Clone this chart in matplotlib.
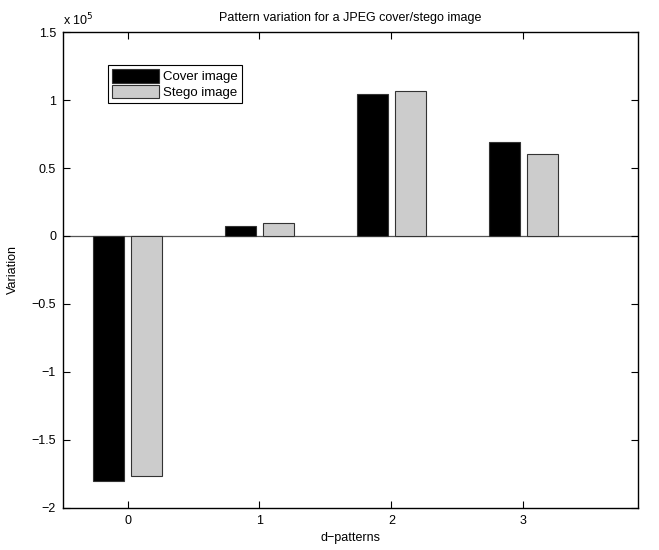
import numpy as np
import matplotlib
matplotlib.use("Agg")
import matplotlib.pyplot as plt
from matplotlib.ticker import FuncFormatter

# values
patterns = [0, 1, 2, 3]
cover = [-180000, 7400, 104400, 68900]
stego = [-176500, 9300, 106800, 60500]
series_names = ["Cover image", "Stego image"]


def main():
    plt.rcParams['font.family'] = ['Liberation Sans', 'DejaVu Sans']
    fig = plt.figure(figsize=(6.59, 5.5), dpi=100)
    ax = fig.add_axes([0.0956, 0.0764, 0.8724, 0.8654])

    x = np.array(patterns, dtype=float)
    w = 0.235
    ax.bar(x - 0.145, cover, w, color="black", edgecolor="#333333", linewidth=0.8,
           label=series_names[0], zorder=2)
    ax.bar(x + 0.145, stego, w, color="#cccccc", edgecolor="#333333", linewidth=0.8,
           label=series_names[1], zorder=2)
    ax.axhline(0, color="#555555", linewidth=0.9, zorder=1)

    ax.set_xlim(-0.49, 3.87)
    ax.set_ylim(-2e5, 1.5e5)
    ax.set_xticks(patterns)
    ax.set_yticks(np.arange(-2e5, 1.5e5 + 1, 0.5e5))
    ax.yaxis.set_major_formatter(
        FuncFormatter(lambda v, p: ("%g" % (v / 1e5)).replace("-", "\u2212")))
    ax.tick_params(direction="in", top=True, right=True, labelsize=9, length=5,
                   width=0.8, pad=5)
    for s in ax.spines.values():
        s.set_linewidth(1.0)

    ax.text(0.0, 1.008, r"x 10$^5$", transform=ax.transAxes, fontsize=9,
            ha="left", va="bottom")
    ax.set_title("Pattern variation for a JPEG cover/stego image", fontsize=9, pad=8)
    ax.set_xlabel("d\u2212patterns", fontsize=9, labelpad=4)
    ax.set_ylabel("Variation", fontsize=9, labelpad=9)

    leg = ax.legend(loc="upper left", bbox_to_anchor=(0.078, 0.931), fontsize=9.5,
                    fancybox=False, framealpha=1, edgecolor="black",
                    handlelength=3.6, handleheight=1.25, borderpad=0.3,
                    labelspacing=0.1, handletextpad=0.3, borderaxespad=0)
    leg.get_frame().set_linewidth(0.8)

    fig.savefig("out.png", dpi=100)


if __name__ == "__main__":
    main()
